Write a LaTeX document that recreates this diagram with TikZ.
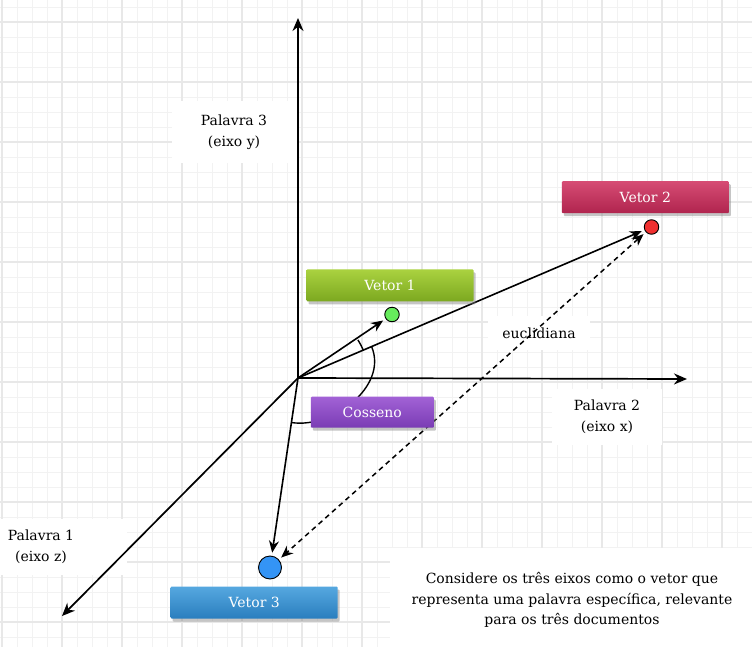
\documentclass[tikz,border=0pt]{standalone}
\usepackage{fontspec}
\setmainfont{DejaVu Serif}
\usetikzlibrary{arrows.meta, shadows}
\definecolor{gridlight}{HTML}{F2F2F2}
\definecolor{griddark}{HTML}{E8E8E8}
\tikzstyle{gridline} = [draw=gridlight, line width=0.9pt]
\tikzstyle{gridbold} = [draw=griddark, line width=1.1pt]
\tikzstyle{axis} = [line width=1.7pt, -{Stealth[length=13pt,width=11pt]}]
\tikzstyle{vector} = [line width=1.6pt, -{Stealth[length=12pt,width=10pt]}, shorten >=3pt]
\tikzstyle{euclidline} = [line width=1.5pt, dash pattern=on 5pt off 4pt, {Stealth[length=12pt,width=10pt]}-{Stealth[length=12pt,width=10pt]}, shorten >=3pt, shorten <=3pt]
\tikzstyle{anglemark} = [line width=1.4pt]
\tikzstyle{wordlabel} = [rectangle, fill=white, align=center, font=\fontsize{14}{21}\selectfont]
\tikzstyle{vecbox} = [rectangle, rounded corners=1pt, minimum width=167pt, minimum height=32pt, text=white, font=\fontsize{14}{16}\selectfont, drop shadow={shadow xshift=2pt, shadow yshift=-3pt, opacity=0.45}]
\tikzstyle{dot} = [circle, draw=black, line width=0.9pt, inner sep=0pt, minimum size=14.5pt]

\begin{document}
\begin{tikzpicture}[x=1pt, y=-1pt]
	\useasboundingbox (0,0) rectangle (752,647);
	\fill[white] (0,0) rectangle (752,647);
	\foreach \gx in {2,17,...,752} \draw[gridline] (\gx,0) -- (\gx,647);
	\foreach \gy in {7,22,...,647} \draw[gridline] (0,\gy) -- (752,\gy);
	\foreach \gx in {2,62,...,752} \draw[gridbold] (\gx,0) -- (\gx,647);
	\foreach \gy in {22,82,...,647} \draw[gridbold] (0,\gy) -- (752,\gy);

	\node (eixoy) [wordlabel, minimum width=125pt, minimum height=62pt] at (234,132) {Palavra 3\\(eixo y)};
	\node (eixox) [wordlabel, minimum width=110pt, minimum height=56pt] at (607,417) {Palavra 2\\(eixo x)};
	\node (eixoz) [wordlabel, minimum width=127pt, minimum height=56pt] at (63,547) {\hspace*{-44pt}Palavra 1\\\hspace*{-44pt}(eixo z)};
	\node (euclid) [wordlabel, minimum width=102pt, minimum height=34pt] at (539,333) {euclidiana};
	\node (note) [wordlabel, minimum width=364pt, minimum height=104pt, font=\fontsize{14}{20.7}\selectfont] at (572,600) {Considere os três eixos como o vetor que\\representa uma palavra específica, relevante\\para os três documentos};

	\coordinate (origin) at (298,378);
	\coordinate (yend) at (298,18);
	\coordinate (xend) at (687,379);
	\coordinate (zend) at (62,616);

	\node (dot1) [dot, fill={rgb,255:red,102;green,236;blue,92}] at (392,314.5) {};
	\node (dot2) [dot, fill={rgb,255:red,240;green,48;blue,48}] at (651.5,227) {};
	\node (dot3) [dot, fill={rgb,255:red,52;green,148;blue,245}, minimum size=23pt] at (270,567.5) {};

	\draw [axis](origin) -- (yend);
	\draw [axis](origin) -- (xend);
	\draw [axis](origin) -- (zend);
	\draw [vector](origin) -- (dot1);
	\draw [vector](origin) -- (dot2);
	\draw [vector](origin) -- (dot3);
	\draw [euclidline](dot2) -- (dot3);

	\draw [anglemark] (origin) ++(-22.9:71) arc[start angle=-22.9, end angle=-32.5, radius=71];
	\draw [anglemark] (371.7,346.9) .. controls (388,386) and (333,429) .. (291.2,422.5);

	\node (vetor1) [vecbox, top color={rgb,255:red,170;green,210;blue,64}, bottom color={rgb,255:red,124;green,168;blue,32}] at (390,285.3) {Vetor 1};
	\node (vetor2) [vecbox, top color={rgb,255:red,214;green,76;blue,116}, bottom color={rgb,255:red,176;green,36;blue,78}] at (645.3,197.2) {Vetor 2};
	\node (cosseno) [vecbox, minimum width=123pt, minimum height=31pt, top color={rgb,255:red,162;green,98;blue,214}, bottom color={rgb,255:red,122;green,60;blue,180}] at (372.3,412.2) {Cosseno};
	\node (vetor3) [vecbox, top color={rgb,255:red,86;green,168;blue,224}, bottom color={rgb,255:red,42;green,126;blue,190}] at (254.2,602.5) {Vetor 3};
\end{tikzpicture}
\end{document}
